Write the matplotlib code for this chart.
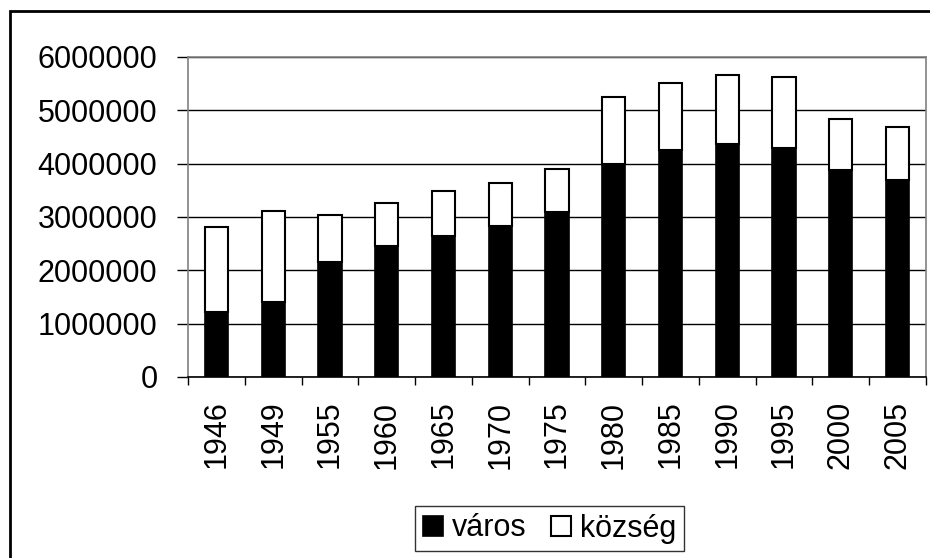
import matplotlib
matplotlib.use("Agg")
import matplotlib.pyplot as plt
from matplotlib.patches import Rectangle
import numpy as np

years = ["1946", "1949", "1955", "1960", "1965", "1970", "1975",
         "1980", "1985", "1990", "1995", "2000", "2005"]
varos = [1210000, 1400000, 2150000, 2450000, 2640000, 2825000, 3090000,
         3990000, 4250000, 4360000, 4290000, 3875000, 3690000]
kozseg = [1600000, 1710000, 890000, 810000, 840000, 815000, 810000,
          1260000, 1260000, 1300000, 1330000, 965000, 1000000]

plt.rcParams['font.family'] = ['Liberation Sans', 'DejaVu Sans']

fig = plt.figure(figsize=(9.3, 5.58), dpi=100)
ax = fig.add_axes([0.2022, 0.3244, 0.7935, 0.5735])

x = np.arange(len(years))
w = 0.41
ax.bar(x, varos, w, color='black', edgecolor='black', linewidth=1.2,
       label='város', zorder=3)
ax.bar(x, kozseg, w, bottom=varos, color='white', edgecolor='black',
       linewidth=1.5, label='község', zorder=3)

ax.set_xlim(-0.5, len(years) - 0.5)
ax.set_ylim(0, 6000000)
ax.set_yticks(np.arange(0, 6000001, 1000000))
ax.set_yticklabels([str(v) for v in range(0, 6000001, 1000000)], fontsize=22)
ax.yaxis.grid(True, color='black', linewidth=1.0, zorder=0)

ax.set_xticks(x)
ax.set_xticklabels(years, rotation=90, fontsize=22)
# tick marks sit between the categories
ax.set_xticks(np.arange(-0.5, len(years), 1), minor=True)
ax.tick_params(axis='x', which='major', length=0, pad=17)
ax.tick_params(axis='x', which='minor', length=6, width=1, color='black')
ax.tick_params(axis='y', length=8, width=1, pad=14)

for side in ['top', 'right', 'left']:
    ax.spines[side].set_color('#808080')
    ax.spines[side].set_linewidth(1.2)
ax.spines['bottom'].set_color('black')
ax.spines['bottom'].set_linewidth(1.2)

# outer chart frame
fig.patches.append(Rectangle((10 / 930, -0.1), 1.2, 1.1 - 11 / 558,
                             transform=fig.transFigure, fill=False,
                             edgecolor='black', linewidth=2))

leg = fig.legend(loc='center', bbox_to_anchor=(549.5 / 930, 1 - 528.5 / 558),
                 ncol=2, fontsize=22, frameon=True, fancybox=False,
                 handlelength=0.65, handleheight=0.65, handletextpad=0.3,
                 columnspacing=0.8, borderpad=0.25, borderaxespad=0)
leg.get_frame().set_edgecolor('black')
leg.get_frame().set_linewidth(1.0)

fig.savefig('out.png', dpi=100)
